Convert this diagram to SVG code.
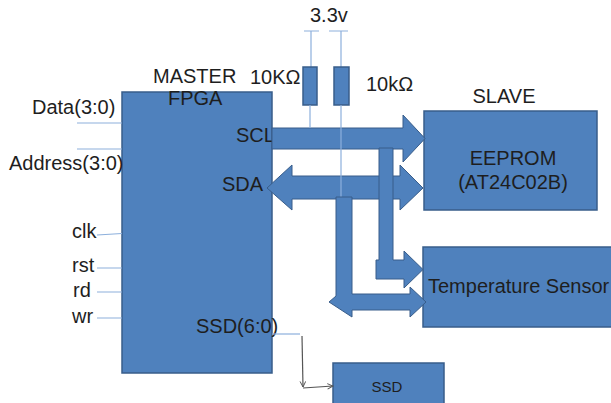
<svg xmlns="http://www.w3.org/2000/svg" width="611" height="403" viewBox="0 0 611 403">
<style>
.box{fill:#4F81BD;stroke:#385D8A;stroke-width:1.5}
.bus{fill:#4F81BD;stroke:#385D8A;stroke-width:1}
.wire{stroke:#8DB0DC;stroke-width:1.2;fill:none}
.t{font-family:"Liberation Sans",Arial,sans-serif;font-size:20px;fill:#1e1e1e}
.g{stroke:#555;stroke-width:1.2;fill:none}
</style>
<defs>
<marker id="ah" viewBox="0 0 10 10" refX="9" refY="5" markerWidth="7" markerHeight="7" orient="auto" markerUnits="userSpaceOnUse">
<path d="M1,1 L9,5 L1,9" fill="none" stroke="#555" stroke-width="1.4"/>
</marker>
</defs>
<g id="vcc">
<text class="t" x="310" y="22">3.3v</text>
<path class="wire" d="M304,31H319M311,31V67M329,31H348M341,31V67"/>
</g>
<g id="r1"><rect class="box" x="303" y="67" width="14" height="38"/><text class="t" x="250" y="84">10KΩ</text></g>
<g id="r2"><rect class="box" x="334" y="67" width="15" height="38"/><text class="t" x="366" y="91">10kΩ</text></g>
<g id="fpga">
<rect class="box" x="122" y="92" width="150" height="281"/>
<text class="t" x="153" y="83">MASTER</text>
<text class="t" x="168" y="105">FPGA</text>
<text class="t" x="236" y="142">SCL</text>
<text class="t" x="222" y="191">SDA</text>
<text class="t" x="196" y="333">SSD(6:0)</text>
</g>
<g id="pins">
<text class="t" x="32" y="114">Data(3:0)</text>
<text class="t" x="9" y="170">Address(3:0)</text>
<text class="t" x="72" y="238">clk</text>
<text class="t" x="72" y="272">rst</text>
<text class="t" x="73" y="297">rd</text>
<text class="t" x="72" y="323">wr</text>
<path class="wire" d="M77,123H122M77,149H122M97,235L122,233.5M97,268H122M97,292H122M97,318H122"/>
</g>
<g id="eeprom">
<rect class="box" x="424" y="111" width="173" height="99"/>
<text class="t" x="504" y="103" text-anchor="middle">SLAVE</text>
<text class="t" x="513" y="165" text-anchor="middle">EEPROM</text>
<text class="t" x="513" y="189" text-anchor="middle">(AT24C02B)</text>
</g>
<g id="temp">
<rect class="box" x="423" y="247" width="200" height="80"/>
<text class="t" x="428" y="293">Temperature Sensor</text>
</g>
<g id="ssd">
<rect class="box" x="333" y="363" width="111" height="50"/>
<text class="t" x="387" y="392" text-anchor="middle" style="font-size:15px">SSD</text>
</g>
<g id="connectors">
<polygon class="bus" points="272,128 403,128 403,115 425,138.5 403,162 403,149 272,149"/>
<polygon class="bus" points="267,188 292,165 292,176 400,176 400,165 423,188 400,210 400,199 292,199 292,210"/>
<path class="wire" d="M310,105V128M341,105V197"/>
<polygon class="bus" points="379,148 393,148 393,260 404,260 404,251 423,269.5 404,288 404,279 376,279 376,260 379,260"/>
<polygon class="bus" points="336,197 352,197 352,294 410,294 410,287 426,302 410,317 410,310 352,310 352,317 329,302 336,296"/>
<path class="wire" d="M272,334H300"/>
<path class="g" d="M302,336L303,387" marker-end="url(#ah)"/>
<path class="g" d="M303,388L333,386" marker-end="url(#ah)"/>
</g>
</svg>
